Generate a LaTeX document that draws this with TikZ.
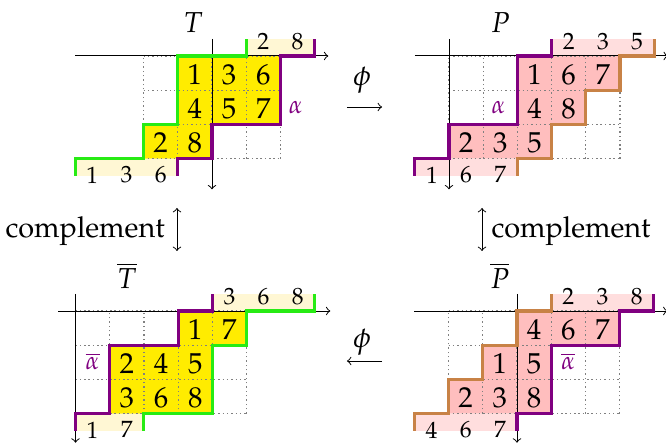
\documentclass[tikz,border=0pt]{standalone}
\usepackage[T1]{fontenc}
\usepackage{mathpazo}
\definecolor{cyel}{RGB}{255,236,0}
\definecolor{cyell}{RGB}{255,247,212}
\definecolor{cpink}{RGB}{255,190,190}
\definecolor{cpinkl}{RGB}{255,222,222}
\definecolor{cgreen}{RGB}{40,235,20}
\definecolor{cpurp}{RGB}{128,0,128}
\definecolor{cbrown}{RGB}{200,130,70}
\begin{document}
\begin{tikzpicture}[x=0.5cm,y=0.5cm,
  num/.style={inner sep=0pt,font=\fontsize{12}{14}\selectfont},
  snum/.style={inner sep=0pt,font=\fontsize{9.8}{12}\selectfont},
  axisl/.style={line width=0.4pt,->},
  gridl/.style={black!50,line width=0.5pt,dash pattern=on 0.6pt off 1.2pt},
  bnd/.style={line width=1.3pt},
  lab/.style={anchor=base,inner sep=0pt,font=\fontsize{12}{14}\selectfont},
  alab/.style={anchor=base,inner sep=0pt,text=cpurp,font=\fontsize{10.5}{12}\selectfont},
  comp/.style={inner sep=0pt,font=\fontsize{12}{14}\selectfont}]
\useasboundingbox (0,0) rectangle (19.474,-13.012);

% ---------- T ----------
\begin{scope}[shift={(6.199,-1.637)}]
\fill[cyel] (-1,0)--(2,0)--(2,-2)--(0,-2)--(0,-3)--(-2,-3)--(-2,-2)--(-1,-2)--cycle;
\fill[cyell] (1,0) rectangle (3,0.5);
\fill[cyell] (-4,-3) rectangle (-1,-3.5);
\draw[gridl,step=1] (-2,-3) grid (2,0);
\draw[axisl] (-4,0) -- (3.4,0);
\draw[axisl] (0,0.5) -- (0,-3.9);
\draw[bnd,cgreen] (-4,-3.5)--(-4,-3)--(-2,-3)--(-2,-2)--(-1,-2)--(-1,0)--(1,0)--(1,0.5);
\draw[bnd,cpurp] (-1,-3.5)--(-1,-3)--(0,-3)--(0,-2)--(2,-2)--(2,0)--(3,0)--(3,0.5);
\foreach \x/\v in {-0.5/1,0.5/3,1.5/6} \node[num] (T-a\v) at (\x,-0.55) {$\v$};
\foreach \x/\v in {-0.5/4,0.5/5,1.5/7} \node[num] (T-b\v) at (\x,-1.55) {$\v$};
\foreach \x/\v in {-1.5/2,-0.5/8} \node[num] (T-c\v) at (\x,-2.55) {$\v$};
\foreach \x/\v in {1.5/2,2.5/8} \node[snum] (T-t\v) at (\x,0.42) {$\v$};
\foreach \x/\v in {-3.5/1,-2.5/3,-1.5/6} \node[snum] (T-s\v) at (\x,-3.48) {$\v$};
\node[lab] (T-name) at (-0.55,0.70) {$T$};
\node[alab] (T-alpha) at (2.45,-1.67) {$\alpha$};
\end{scope}

% ---------- P ----------
\begin{scope}[shift={(13.129,-1.637)}]
\fill[cpink] (2,0)--(5,0)--(5,-1)--(4,-1)--(4,-2)--(3,-2)--(3,-3)--(0,-3)--(0,-2)--(2,-2)--cycle;
\fill[cpinkl] (3,0) rectangle (6,0.5);
\fill[cpinkl] (-1,-3) rectangle (2,-3.5);
\draw[gridl,step=1] (0,-3) grid (5,0);
\draw[axisl] (-1,0) -- (6.4,0);
\draw[axisl] (0,0.5) -- (0,-3.9);
\draw[bnd,cpurp] (-1,-3.5)--(-1,-3)--(0,-3)--(0,-2)--(2,-2)--(2,0)--(3,0)--(3,0.5);
\draw[bnd,cbrown] (2,-3.5)--(2,-3)--(3,-3)--(3,-2)--(4,-2)--(4,-1)--(5,-1)--(5,0)--(6,0)--(6,0.5);
\foreach \x/\v in {2.5/1,3.5/6,4.5/7} \node[num] (P-a\v) at (\x,-0.55) {$\v$};
\foreach \x/\v in {2.5/4,3.5/8} \node[num] (P-b\v) at (\x,-1.55) {$\v$};
\foreach \x/\v in {0.5/2,1.5/3,2.5/5} \node[num] (P-c\v) at (\x,-2.55) {$\v$};
\foreach \x/\v in {3.5/2,4.5/3,5.5/5} \node[snum] (P-t\v) at (\x,0.42) {$\v$};
\foreach \x/\v in {-0.5/1,0.5/6,1.5/7} \node[snum] (P-s\v) at (\x,-3.48) {$\v$};
\node[lab] (P-name) at (1.5,0.70) {$P$};
\node[alab] (P-alpha) at (1.45,-1.67) {$\alpha$};
\end{scope}

% ---------- T bar ----------
\begin{scope}[shift={(2.208,-9.094)}]
\fill[cyel] (3,0)--(5,0)--(5,-1)--(4,-1)--(4,-3)--(1,-3)--(1,-1)--(3,-1)--cycle;
\fill[cyell] (4,0) rectangle (7,0.5);
\fill[cyell] (0,-3) rectangle (2,-3.5);
\draw[gridl,step=1] (0,-3) grid (5,0);
\draw[axisl] (-0.5,0) -- (7.45,0);
\draw[axisl] (0,0.5) -- (0,-3.85);
\draw[bnd,cpurp] (0,-3.5)--(0,-3)--(1,-3)--(1,-1)--(3,-1)--(3,0)--(4,0)--(4,0.5);
\draw[bnd,cgreen] (2,-3.5)--(2,-3)--(4,-3)--(4,-1)--(5,-1)--(5,0)--(7,0)--(7,0.5);
\foreach \x/\v in {3.5/1,4.5/7} \node[num] (Tb-a\v) at (\x,-0.55) {$\v$};
\foreach \x/\v in {1.5/2,2.5/4,3.5/5} \node[num] (Tb-b\v) at (\x,-1.55) {$\v$};
\foreach \x/\v in {1.5/3,2.5/6,3.5/8} \node[num] (Tb-c\v) at (\x,-2.55) {$\v$};
\foreach \x/\v in {4.5/3,5.5/6,6.5/8} \node[snum] (Tb-t\v) at (\x,0.42) {$\v$};
\foreach \x/\v in {0.5/1,1.5/7} \node[snum] (Tb-s\v) at (\x,-3.48) {$\v$};
\node[lab] (Tb-name) at (1.5,0.67) {$\overline{T}$};
\node[alab] (Tb-alpha) at (0.5,-1.72) {$\overline{\alpha}$};
\end{scope}

% ---------- P bar ----------
\begin{scope}[shift={(15.117,-9.094)}]
\fill[cpink] (0,0)--(3,0)--(3,-1)--(1,-1)--(1,-3)--(-2,-3)--(-2,-2)--(-1,-2)--(-1,-1)--(0,-1)--cycle;
\fill[cpinkl] (1,0) rectangle (4,0.5);
\fill[cpinkl] (-3,-3) rectangle (0,-3.5);
\draw[gridl,step=1] (-2,-3) grid (3,0);
\draw[axisl] (-3,0) -- (4.4,0);
\draw[axisl] (0,0.5) -- (0,-3.85);
\draw[bnd,cbrown] (-3,-3.5)--(-3,-3)--(-2,-3)--(-2,-2)--(-1,-2)--(-1,-1)--(0,-1)--(0,0)--(1,0)--(1,0.5);
\draw[bnd,cpurp] (0,-3.5)--(0,-3)--(1,-3)--(1,-1)--(3,-1)--(3,0)--(4,0)--(4,0.5);
\foreach \x/\v in {0.5/4,1.5/6,2.5/7} \node[num] (Pb-a\v) at (\x,-0.55) {$\v$};
\foreach \x/\v in {-0.5/1,0.5/5} \node[num] (Pb-b\v) at (\x,-1.55) {$\v$};
\foreach \x/\v in {-1.5/2,-0.5/3,0.5/8} \node[num] (Pb-c\v) at (\x,-2.55) {$\v$};
\foreach \x/\v in {1.5/2,2.5/3,3.5/8} \node[snum] (Pb-t\v) at (\x,0.42) {$\v$};
\foreach \x/\v in {-2.5/4,-1.5/6,-0.5/7} \node[snum] (Pb-s\v) at (\x,-3.48) {$\v$};
\node[lab] (Pb-name) at (-0.5,0.67) {$\overline{P}$};
\node[alab] (Pb-alpha) at (1.5,-1.72) {$\overline{\alpha}$};
\end{scope}

% ---------- phi arrows ----------
\node[font=\fontsize{12}{14}\selectfont] (phi1) at (10.585,-2.339) {$\phi$};
\coordinate (phi1a) at (10.146,-3.129);
\coordinate (phi1b) at (11.170,-3.129);
\draw[line width=0.4pt,->] (phi1a) -- (phi1b);
\node[font=\fontsize{12}{14}\selectfont] (phi2) at (10.585,-10.0) {$\phi$};
\coordinate (phi2a) at (11.170,-10.556);
\coordinate (phi2b) at (10.146,-10.556);
\draw[line width=0.4pt,->] (phi2a) -- (phi2b);

% ---------- complement arrows ----------
\coordinate (c1a) at (5.175,-6.082);
\coordinate (c1b) at (5.175,-7.339);
\draw[line width=0.4pt,<->] (c1a) -- (c1b);
\node[comp,anchor=base east] (comp1) at (4.83,-6.94) {complement};
\coordinate (c2a) at (14.094,-6.082);
\coordinate (c2b) at (14.094,-7.339);
\draw[line width=0.4pt,<->] (c2a) -- (c2b);
\node[comp,anchor=base west] (comp2) at (14.36,-6.94) {complement};
\end{tikzpicture}
\end{document}
